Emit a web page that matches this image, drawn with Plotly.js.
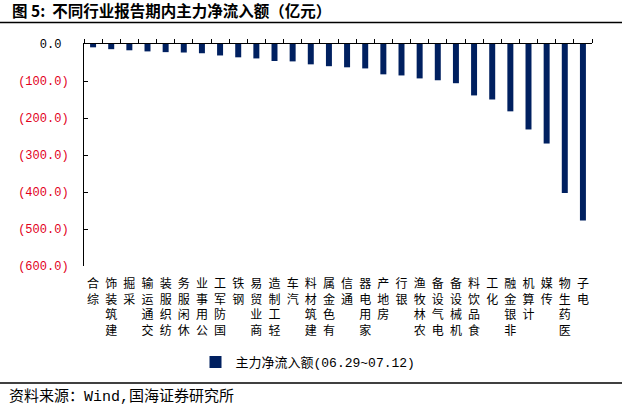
<!DOCTYPE html>
<html>
<head>
<meta charset="utf-8">
<script src="https://cdn.plot.ly/plotly-3.0.1.min.js"></script>
<style>html,body{margin:0;padding:0;background:#fff;}#chart{width:622px;height:409px;}</style>
</head>
<body>
<div id="chart"></div>
<script>
// ---- data ----
const categories = ['综合','建筑装饰','采掘','交通运输','纺织服装','休闲服务','公用事业','国防军工','钢铁','商业贸易','轻工制造','汽车','建筑材料','有色金属','通信','家用电器','房地产','银行','农林牧渔','电气设备','机械设备','食品饮料','化工','非银金融','计算机','传媒','医药生物','电子'];
const netInflow = [-9, -14, -17, -20, -22, -23, -25, -31, -36, -39, -46, -47, -55, -60, -63, -66, -82, -85, -93, -98, -106, -139, -150, -182, -231, -269, -403, -477];
const seriesName = '主力净流入额(06.29~07.12)';
const yTickVals = [0, -100, -200, -300, -400, -500, -600];
const titleText = '图 5:  不同行业报告期内主力净流入额（亿元）';
const sourceText = '资料来源：Wind,国海证券研究所';

// ---- derived labels ----
const RED = 'rgb(226,0,26)';
const xTickText = categories.map(c => Array.from(c).reverse().join('<br>'));
const yTickText = yTickVals.map(v => v === 0
  ? '0.0<span style="color:rgba(0,0,0,0)">)</span>'
  : '<span style="color:' + RED + '">(' + Math.abs(v).toFixed(1) + ')</span>');

const W = 622, H = 409;
const L = 84, R = 30, T = 44, B = 143;
const pw = W - L - R, ph = H - T - B;
const px = x => (x - L) / pw;
const py = y => (H - B - y) / ph;

const MONO = 'Liberation Mono, Noto Sans CJK SC, sans-serif';

const trace = {
  type: 'bar',
  x: categories,
  y: netInflow,
  name: seriesName,
  marker: {color: '#002060'},
  hoverinfo: 'skip'
};

const layout = {
  width: W, height: H,
  margin: {l: L, r: R, t: T, b: B, pad: 0},
  paper_bgcolor: '#fff', plot_bgcolor: '#fff',
  bargap: 0.67,
  font: {family: MONO, color: '#000', size: 12},
  title: {
    text: '<b>' + titleText + '</b>',
    font: {family: 'Noto Sans CJK SC, sans-serif', size: 15.5, color: '#000'},
    xref: 'container', yref: 'container',
    x: 12 / W, xanchor: 'left', y: 1 - 12 / H, yanchor: 'middle'
  },
  xaxis: {
    type: 'category',
    tickvals: categories,
    ticktext: xTickText,
    ticks: '',
    ticklabelstandoff: 9,
    showline: false, showgrid: false, zeroline: false,
    tickangle: 0,
    tickfont: {family: MONO, size: 12, color: '#000'}
  },
  xaxis2: {
    overlaying: 'x', side: 'top', anchor: 'y',
    range: [-0.5, categories.length - 0.5],
    tick0: -0.5, dtick: 1,
    ticks: 'outside', ticklen: 4, tickcolor: '#000', tickwidth: 1,
    showline: true, linecolor: '#000', linewidth: 1,
    showticklabels: false, showgrid: false, zeroline: false
  },
  yaxis: {
    range: [-600, 0],
    tickvals: yTickVals,
    ticktext: yTickText,
    ticks: 'inside', ticklen: 4, tickcolor: '#000',
    showline: true, linecolor: '#000', linewidth: 1,
    showgrid: false, zeroline: false,
    ticklabelstandoff: 12,
    tickfont: {family: MONO, size: 12, color: '#000'}
  },
  showlegend: true,
  legend: {
    orientation: 'h',
    x: px(308), xanchor: 'center',
    y: py(362), yanchor: 'middle',
    font: {family: MONO, size: 13, color: '#000'},
    bgcolor: 'rgba(0,0,0,0)'
  },
  shapes: [
    {type: 'line', xref: 'paper', yref: 'paper', x0: px(0), x1: px(W), y0: py(22.5), y1: py(22.5), line: {color: '#000', width: 1.5}},
    {type: 'line', xref: 'paper', yref: 'paper', x0: px(0), x1: px(W), y0: py(383), y1: py(383), line: {color: '#000', width: 1.5}}
  ],
  annotations: [
    {text: sourceText, xref: 'paper', yref: 'paper', x: px(7), y: py(397), xanchor: 'left', yanchor: 'middle', showarrow: false,
     font: {family: MONO, size: 15, color: '#000'}}
  ]
};

const trace2 = {type: 'bar', x: [], y: [], xaxis: 'x2', showlegend: false, hoverinfo: 'skip'};

Plotly.newPlot('chart', [trace, trace2], layout, {staticPlot: true, displayModeBar: false});
</script>
</body>
</html>
